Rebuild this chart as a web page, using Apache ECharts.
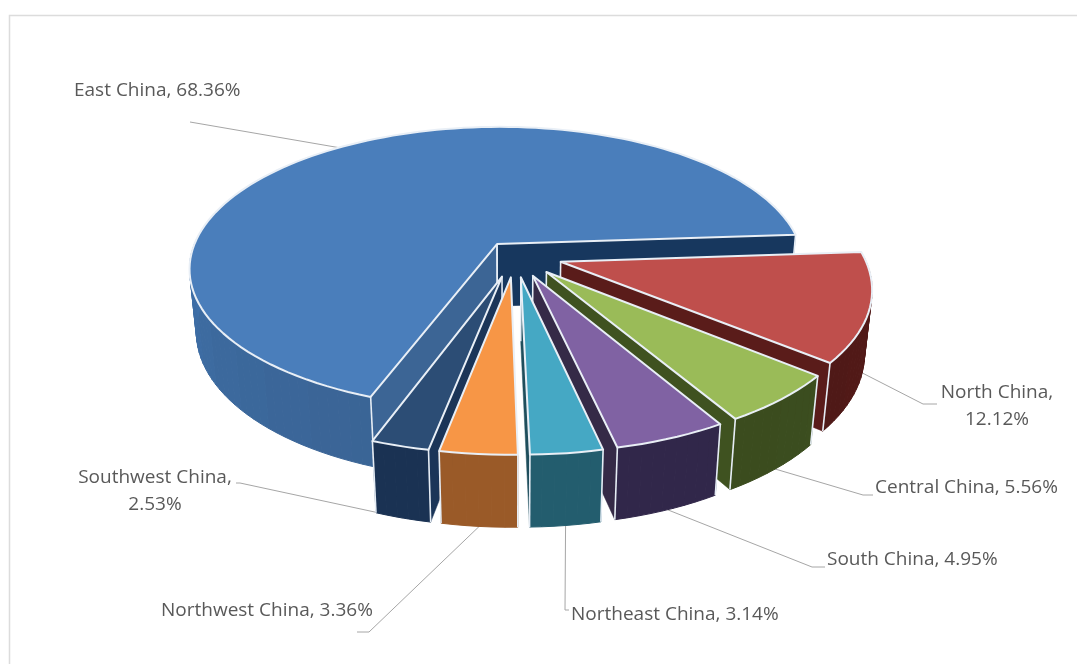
<!DOCTYPE html>
<html>
<head>
<meta charset="utf-8">
<style>html,body{margin:0;padding:0;background:#fff}#chart{width:1077px;height:664px}</style>
<script src="https://cdn.jsdelivr.net/npm/echarts@6/dist/echarts.min.js"></script>
</head>
<body>
<div id="chart"></div>
<script>
// Regional share of the total, clockwise from the first slice.
const regions = ['East China', 'North China', 'Central China', 'South China', 'Northeast China', 'Northwest China', 'Southwest China'];
const shares = [68.36, 12.12, 5.56, 4.95, 3.14, 3.36, 2.53];

// Slice styling, one entry per region. Rim colour runs from side-on (A) to front-on (B).
const topColors = ['#4a7ebb', '#bf4f4c', '#9abb58', '#8062a3', '#45a8c4', '#f79646', '#2c4d75'];
const rimColorsA = ['#3f70a9', '#561b19', '#3f5220', '#352a47', '#205a6b', '#ab6329', '#1b3558'];
const rimColorsB = ['#3a6495', '#4a1715', '#3a4b1e', '#31274a', '#235d6e', '#9a5a28', '#1a3253'];
const startWalls = ['#3c6595', '#5a1c1a', '#3f5220', '#352a47', '#1f4e5c', '#9a5a28', '#1b3558'];
const endWalls = ['#17375e', '#5a1c1a', '#3f5220', '#352a47', '#1f4e5c', '#9a5a28', '#1b3558'];
const explode = [0.1, 0.157, 0.157, 0.157, 0.157, 0.157, 0.157];
const radii = [1.012, 1, 1, 1, 1, 1, 1];

// Label text placement and leader-line elbows.
const labelText = ['East China, 68.36%', 'North China,\n12.12%', 'Central China, 5.56%', 'South China, 4.95%', 'Northeast China, 3.14%', 'Northwest China, 3.36%', 'Southwest China,\n2.53%'];
const labelAnchor = [[74, 91, 'left'], [997, 406, 'center'], [875, 488, 'left'], [827, 560, 'left'], [571, 615, 'left'], [161, 611, 'left'], [155, 491, 'center']];
const leaderBends = [[[190, 122]], [[923, 404], [937, 404]], [[863, 495], [873, 495]], [[812, 567], [825, 567]], [[565, 610], [569, 610]], [[369, 632], [357, 632]], [[240, 483], [236, 483]]];

// Tilted-disc projection: p is the foreshortening, q and C give the extrusion.
const view = { cx: 515, cy: 255, B: 303, A: 139, C: 64, p: 0.169, q: 0.021 };
const firstAngle = 250;
const total = shares.reduce((a, b) => a + b, 0);

function project(wx, wy, z) {
  const s = 1 / (1 - view.p * wy + view.q * z);
  return [view.cx + view.B * wx * s, view.cy + (view.A * wy + view.C * z) * s];
}
const rad = d => d * Math.PI / 180;
function hex(c) { return [1, 3, 5].map(i => parseInt(c.substr(i, 2), 16)); }
function mix(a, b, t) {
  const x = hex(a), y = hex(b);
  return 'rgb(' + x.map((v, i) => Math.round(v + (y[i] - v) * t)).join(',') + ')';
}

// Angular extent of every slice, running clockwise.
let cursor = firstAngle;
const extents = shares.map(v => {
  const from = cursor, to = cursor - v / total * 360;
  cursor = to;
  return { from, to, mid: (from + to) / 2 };
});
const depthOrder = extents.map((e, i) => [-Math.sin(rad(e.mid)), i]).sort((a, b) => a[0] - b[0]).map(d => d[1]);

function renderSlice(params, api) {
  const i = api.value(0);
  const e = extents[i];
  const rank = depthOrder.indexOf(i) + 1;
  const ox = Math.cos(rad(e.mid)) * explode[i];
  const oy = -Math.sin(rad(e.mid)) * explode[i];
  const r = radii[i];
  const rimPoint = (deg, z) => project(ox + r * Math.cos(rad(deg)), oy - r * Math.sin(rad(deg)), z);
  const apex = z => project(ox, oy, z);

  const steps = Math.max(4, Math.round((e.from - e.to) / 2));
  const arcAngles = [];
  for (let k = 0; k <= steps; k++) arcAngles.push(e.from + (e.to - e.from) * k / steps);
  const children = [];
  const add = (el, order) => { el.z2 = rank * 10 + order; children.push(el); };

  // Outer rim, only where it faces the viewer; shade bins give broad bevel facets.
  const facetDeg = 9;
  for (let k = 0; k < steps; k++) {
    if (-Math.sin(rad(arcAngles[k])) < -0.02 && -Math.sin(rad(arcAngles[k + 1])) < -0.02) continue;
    const binned = Math.round(arcAngles[k] / facetDeg) * facetDeg;
    const c = mix(rimColorsA[i], rimColorsB[i], Math.max(0, -Math.sin(rad(binned))));
    add({
      type: 'polygon',
      shape: { points: [rimPoint(arcAngles[k], 0), rimPoint(arcAngles[k + 1], 0), rimPoint(arcAngles[k + 1], 1), rimPoint(arcAngles[k], 1)] },
      style: { fill: c, stroke: c, lineWidth: 1 }
    }, 0);
  }

  // A cut face shows only when its outward normal points towards the viewer.
  const wall = (deg, color) => {
    add({
      type: 'polygon',
      shape: { points: [apex(0), rimPoint(deg, 0), rimPoint(deg, 1), apex(1)] },
      style: { fill: color, stroke: color, lineWidth: 0.5 }
    }, 1);
    add({
      type: 'polyline',
      shape: { points: [apex(0), apex(1)] },
      style: { fill: null, stroke: '#e6edf5', lineWidth: 1.6 }
    }, 2);
  };
  if (Math.cos(rad(e.from)) < 0) wall(e.from, startWalls[i]);
  if (Math.cos(rad(e.to)) > 0) wall(e.to, endWalls[i]);

  // Light vertical edges at the cut corners.
  [e.from, e.to].forEach(deg => add({
    type: 'polyline',
    shape: { points: [rimPoint(deg, 0), rimPoint(deg, 1)] },
    style: { fill: null, stroke: '#e6edf5', lineWidth: 1.6 }
  }, 2));

  // Top face.
  add({
    type: 'polygon',
    shape: { points: [apex(0)].concat(arcAngles.map(a => rimPoint(a, 0))) },
    style: { fill: topColors[i], stroke: '#e9eff6', lineWidth: 2, lineJoin: 'round' }
  }, 3);

  // Leader line from the rim at the slice's mid-angle, then its label.
  const leaderStart = rimPoint(e.mid, i === 0 ? 0 : 1);
  children.push({
    type: 'polyline', z2: 1,
    shape: { points: [leaderStart].concat(leaderBends[i]) },
    style: { fill: null, stroke: '#a6a6a6', lineWidth: 1 }
  });
  const a = labelAnchor[i];
  children.push({
    type: 'text', z2: 1000,
    style: {
      text: labelText[i], x: a[0], y: a[1], fill: '#595959',
      font: '400 19px "Open Sans"', textAlign: a[2], textVerticalAlign: 'middle', lineHeight: 27
    }
  });
  return { type: 'group', children };
}

const chart = echarts.init(document.getElementById('chart'), null, { renderer: 'canvas' });
chart.setOption({
  animation: false,
  backgroundColor: '#ffffff',
  graphic: [{
    type: 'polyline', silent: true,
    shape: { points: [[9.5, 664], [9.5, 15.5], [1077, 15.5]] },
    style: { fill: null, stroke: '#dcdcdc', lineWidth: 1.5 }
  }],
  series: [{
    type: 'custom',
    coordinateSystem: 'none',
    clip: false,
    renderItem: renderSlice,
    data: regions.map((name, i) => ({ name, value: [i, shares[i]] }))
  }]
});
</script>
</body>
</html>
